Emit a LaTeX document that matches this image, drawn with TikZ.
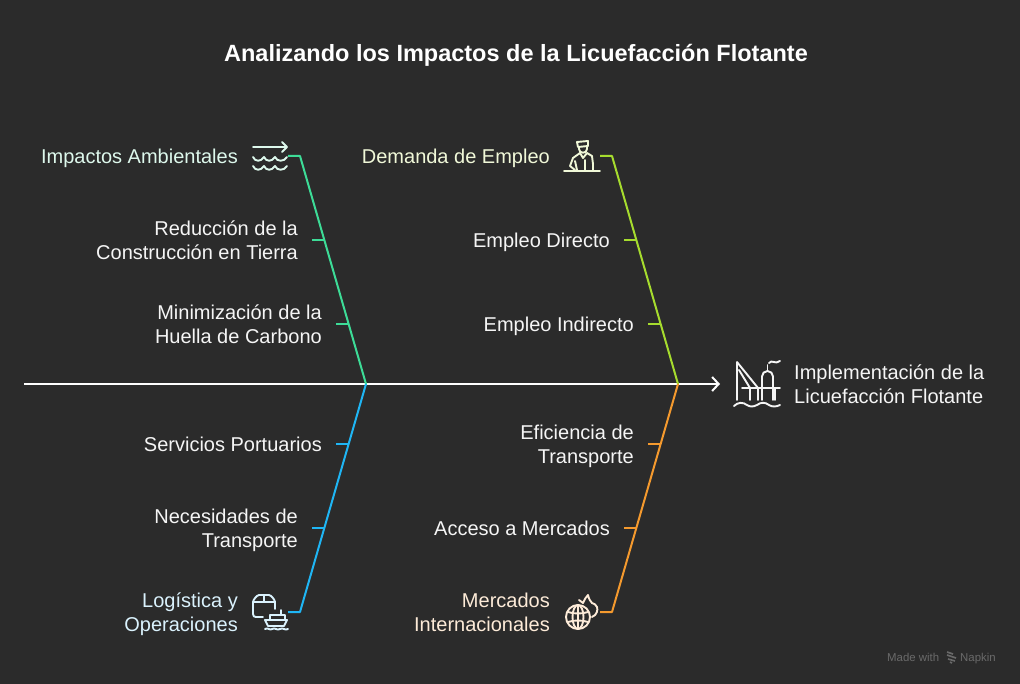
\documentclass[tikz,border=0pt]{standalone}
\usepackage{fontspec}
\setmainfont{Liberation Sans}
\usetikzlibrary{arrows.meta}
\definecolor{bgdark}{HTML}{2B2B2B}
\definecolor{txtwhite}{HTML}{F5F5F5}
\definecolor{bonegreen}{HTML}{3DDC97}
\definecolor{bonelime}{HTML}{A6DC2E}
\definecolor{boneblue}{HTML}{1FB6F5}
\definecolor{boneorange}{HTML}{F59A2E}
\definecolor{tintgreen}{HTML}{DDF8EC}
\definecolor{tintlime}{HTML}{F0F8D8}
\definecolor{tintblue}{HTML}{DAF2FD}
\definecolor{tintorange}{HTML}{FDEBD8}
\definecolor{footgray}{HTML}{6A6A6A}
\newcommand{\lblstrut}{\rule[-5pt]{0pt}{19pt}}
\tikzset{
  cause/.style={anchor=east, yshift=-2.7pt, align=right, text=txtwhite, font=\fontsize{20}{24}\selectfont, inner sep=0pt, execute at begin node=\lblstrut, execute at end node=\lblstrut},
  effect/.style={anchor=west, yshift=-2.7pt, align=left, text=txtwhite, font=\fontsize{20}{24}\selectfont, inner sep=0pt, execute at begin node=\lblstrut, execute at end node=\lblstrut},
  bone/.style={line width=2pt, line join=round},
  icon/.style={line width=1.9pt, line cap=round, line join=round},
  credit/.style={anchor=base west, text=footgray, font=\fontsize{11.4}{13}\selectfont, inner sep=0pt}
}
\begin{document}
\begin{tikzpicture}[x=1pt, y=-1pt]
\fill[bgdark] (0,0) rectangle (1020,684);
\useasboundingbox (0,0) rectangle (1020,684);

\node[anchor=base, text=white, font=\fontsize{23.5}{28}\selectfont\bfseries, inner sep=0pt] (title) at (516,62) {Analizando los Impactos de la Licuefacción Flotante};

% spine
\coordinate (tail) at (24,384);
\coordinate (joinA) at (366,384);
\coordinate (joinB) at (678,384);
\coordinate (head) at (720,384);
\draw[->, >={Straight Barb[length=6.5pt,width=14pt]}, line width=2pt, white] (tail)--(head);

% bones
\coordinate (ambS) at (288,156);
\coordinate (ambC) at (300,156);
\coordinate (empS) at (600,156);
\coordinate (empC) at (612,156);
\coordinate (logS) at (288,612);
\coordinate (logC) at (300,612);
\coordinate (merS) at (600,612);
\coordinate (merC) at (612,612);
\draw[bone, bonegreen] (ambS)--(ambC)--(joinA);
\draw[bone, bonelime] (empS)--(empC)--(joinB);
\draw[bone, boneblue] (logS)--(logC)--(joinA);
\draw[bone, boneorange] (merS)--(merC)--(joinB);

% heads
\node[cause, text=tintgreen] (amb) at (238,156) {Impactos Ambientales};
\node[cause, text=tintlime] (emp) at (550,156) {Demanda de Empleo};
\node[cause, text=tintblue] (log) at (238,612) {Logística y\\Operaciones};
\node[cause, text=tintorange] (mer) at (550,612) {Mercados\\Internacionales};

% sub causes
\node[cause] (red) at (298,240) {Reducción de la\\Construcción en Tierra};
\node[cause] (hue) at (322,324) {Minimización de la\\Huella de Carbono};
\node[cause] (dir) at (610,240) {Empleo Directo};
\node[cause] (ind) at (634,324) {Empleo Indirecto};
\node[cause] (ser) at (322,444) {Servicios Portuarios};
\node[cause] (nec) at (298,528) {Necesidades de\\Transporte};
\node[cause] (efi) at (634,444) {Eficiencia de\\Transporte};
\node[cause] (acc) at (610,528) {Acceso a Mercados};
\node[effect] (imp) at (794,384) {Implementación de la\\Licuefacción Flotante};

% ticks
\coordinate (redA) at (312,240); \coordinate (redB) at (324,240);
\coordinate (hueA) at (336,324); \coordinate (hueB) at (348,324);
\coordinate (dirA) at (624,240); \coordinate (dirB) at (636,240);
\coordinate (indA) at (648,324); \coordinate (indB) at (660,324);
\coordinate (serA) at (336,444); \coordinate (serB) at (348,444);
\coordinate (necA) at (312,528); \coordinate (necB) at (324,528);
\coordinate (efiA) at (648,444); \coordinate (efiB) at (660,444);
\coordinate (accA) at (624,528); \coordinate (accB) at (636,528);
\draw[bone, bonegreen] (redA)--(redB);
\draw[bone, bonegreen] (hueA)--(hueB);
\draw[bone, bonelime] (dirA)--(dirB);
\draw[bone, bonelime] (indA)--(indB);
\draw[bone, boneblue] (serA)--(serB);
\draw[bone, boneblue] (necA)--(necB);
\draw[bone, boneorange] (efiA)--(efiB);
\draw[bone, boneorange] (accA)--(accB);

% wave icon
\draw[icon, tintgreen] (253,147)--(287,147) (282,142)--(287,147)--(282,152);
\foreach \wy in {157,166} {
  \draw[icon, tintgreen] (253,\wy) .. controls (255,\wy+5) and (261,\wy+5) .. (264,\wy) .. controls (266,\wy+5) and (272,\wy+5) .. (275,\wy) .. controls (277,\wy+5) and (284,\wy+5) .. (287,\wy);
}

% worker icon
\draw[icon, tintlime] (564,171)--(600,171);
\draw[icon, tintlime] (577,142)--(588,141)--(588,146)--(578,147)--cycle;
\draw[icon, tintlime] (579,147)--(579,149) .. controls (579,154) and (587,154) .. (587,149)--(587,146);
\draw[icon, tintlime] (575,170)--(570,166)--(573,158)--(580,153)--(583,158)--(587,153)--(592,156)--(593,164)--(593,170);
\draw[icon, tintlime] (575,161)--(577,170);
\draw[icon, tintlime] (585,160)--(585,170);

% platform icon
\draw[icon, txtwhite] (737,362)--(737,400) (737,362)--(758,388) (739,370)--(750,388);
\draw[icon, txtwhite] (742,388)--(780,388);
\draw[icon, txtwhite] (750,388)--(750,400) (758,388)--(758,400) (775,388)--(775,400);
\draw[icon, txtwhite] (762,400)--(762,376.5) arc[start angle=180,end angle=360,radius=5.5] --(773,400);
\draw[icon, txtwhite] (767.5,371)--(767.5,365);
\draw[icon, txtwhite] (769,363) .. controls (772,359) and (775,365) .. (780,361);
\draw[icon, txtwhite] (734,406) .. controls (738,402) and (743,402) .. (747,405) .. controls (750,407) and (753,407) .. (757,405) .. controls (761,402) and (765,402) .. (769,405) .. controls (772,407) and (776,407) .. (780,405);

% box and ship icon
\draw[icon, tintblue] (263,617)--(256,617) .. controls (254,617) and (253,616) .. (253,614)--(253,602) .. controls (253,600) and (257,595) .. (259,595)--(269,595) .. controls (271,595) and (275,600) .. (275,602)--(275,609);
\draw[icon, tintblue] (253,602)--(275,602) (264,595)--(264,602);
\draw[icon, tintblue] (265,620)--(287,620)--(284,626)--(268,626)--cycle;
\draw[icon, tintblue] (270,620)--(270,615)--(285,615)--(285,620);
\draw[icon, tintblue] (281,615)--(281,610);
\draw[icon, tintblue] (265,629) .. controls (268,627) and (270,631) .. (272,629) .. controls (275,627) and (277,631) .. (280,629) .. controls (283,627) and (285,631) .. (288,629);

% globe icon
\draw[icon, tintorange] (578,617) circle[radius=12];
\draw[icon, tintorange] (578,617) ellipse[x radius=5.5,y radius=12];
\draw[icon, tintorange] (568,612) .. controls (574,614) and (582,614) .. (588,612) (568,622) .. controls (574,620) and (582,620) .. (588,622);
\draw[icon, tintorange] (578,605)--(578,629);
\draw[icon, tintorange] (579,600)--(583,603) .. controls (584,600) and (586,597) .. (588,595) .. controls (589,599) and (590,601) .. (592,603) .. controls (594,604) and (596,604) .. (597,607) .. controls (598,610) and (597,615) .. (592,617);

% credit
\node[credit] (made) at (887,661) {Made with};
\node[credit] (nap) at (960,661) {Napkin};
\draw[footgray, line width=1.6pt] (947,652)--(953,654) (947,655)--(956,658) (948,659)--(955,661) (950,662)--(952,663);
\end{tikzpicture}
\end{document}
